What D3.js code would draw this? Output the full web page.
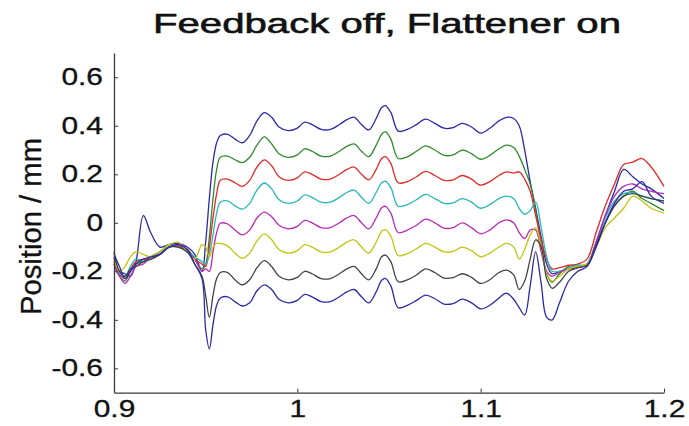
<!DOCTYPE html>
<html><head><meta charset="utf-8">
<script src="https://cdn.jsdelivr.net/npm/d3@7"></script>
<style>
html,body{margin:0;padding:0;background:#fff;}
svg{display:block;font-family:"Liberation Sans",Arial,Helvetica,sans-serif;}
</style></head>
<body>
<svg id="chart" width="689" height="426"></svg>
<script>
// ---- data ----
const titleText = "Feedback off, Flattener on";
const yLabelText = "Position / mm";
const xTicks = [0.9, 1.0, 1.1, 1.2];
const xTickLabels = ["0.9", "1", "1.1", "1.2"];
const yTicks = [-0.6, -0.4, -0.2, 0, 0.2, 0.4, 0.6];
const yTickLabels = ["-0.6", "-0.4", "-0.2", "0", "0.2", "0.4", "0.6"];

const xs = [
  0.900, 0.903, 0.906, 0.909, 0.912, 0.916, 0.920, 0.925, 0.930, 0.935, 0.940, 0.944, 0.948,
  0.950, 0.952, 0.954, 0.956, 0.958,
  0.962, 0.966, 0.970, 0.974, 0.978, 0.982, 0.986, 0.990, 0.995, 1.000, 1.004, 1.008, 1.013, 1.018, 1.023,
  1.027, 1.031, 1.035, 1.039, 1.043, 1.046, 1.048, 1.051, 1.055, 1.060, 1.065, 1.070, 1.075, 1.080, 1.085,
  1.090, 1.095, 1.100, 1.105, 1.110, 1.114, 1.118,
  1.121, 1.124, 1.127, 1.130, 1.133, 1.136, 1.139,
  1.143, 1.148, 1.153, 1.158, 1.163, 1.168, 1.173, 1.178, 1.183, 1.188, 1.193, 1.200
];

const s1 = [
  -0.14, -0.20, -0.21, -0.22, -0.16, 0.03, -0.04, -0.10, -0.09, -0.085, -0.10, -0.13, -0.20,
  -0.08, 0.10, 0.25, 0.33, 0.36,
  0.365, 0.345, 0.330, 0.360, 0.420, 0.454, 0.435, 0.395, 0.380, 0.390, 0.415, 0.405, 0.385, 0.385, 0.405,
  0.425, 0.435, 0.405, 0.383, 0.430, 0.475, 0.483, 0.455, 0.378, 0.385, 0.405, 0.427, 0.410, 0.390, 0.392,
  0.410, 0.395, 0.370, 0.390, 0.420, 0.435, 0.430,
  0.40, 0.30, 0.17, 0.06, -0.06, -0.17, -0.21,
  -0.20, -0.19, -0.185, -0.17, -0.08, 0.03, 0.13, 0.22, 0.19, 0.16, 0.14, 0.10
];
const s2 = [
  -0.17, -0.22, -0.24, -0.20, -0.17, -0.16, -0.14, -0.12, -0.09, -0.10, -0.11, -0.15, -0.19,
  -0.17, -0.06, 0.10, 0.22, 0.27,
  0.275, 0.26, 0.248, 0.27, 0.32, 0.354, 0.325, 0.285, 0.27, 0.28, 0.305, 0.295, 0.275, 0.275, 0.295,
  0.315, 0.325, 0.295, 0.273, 0.32, 0.365, 0.376, 0.345, 0.265, 0.272, 0.295, 0.317, 0.30, 0.278, 0.28,
  0.30, 0.285, 0.262, 0.278, 0.305, 0.32, 0.31,
  0.275, 0.22, 0.16, 0.05, -0.09, -0.21, -0.245,
  -0.21, -0.18, -0.175, -0.175, -0.09, 0.0, 0.07, 0.11, 0.13, 0.10, 0.08, 0.05
];
const s3 = [
  -0.16, -0.21, -0.23, -0.19, -0.16, -0.15, -0.15, -0.13, -0.10, -0.095, -0.11, -0.15, -0.17,
  -0.18, -0.10, 0.02, 0.12, 0.175,
  0.18, 0.165, 0.15, 0.175, 0.23, 0.259, 0.235, 0.19, 0.175, 0.185, 0.21, 0.20, 0.18, 0.18, 0.20,
  0.22, 0.23, 0.20, 0.177, 0.22, 0.265, 0.273, 0.245, 0.165, 0.17, 0.19, 0.212, 0.195, 0.175, 0.177,
  0.195, 0.18, 0.155, 0.17, 0.195, 0.21, 0.205,
  0.21, 0.18, 0.13, 0.03, -0.07, -0.15, -0.19,
  -0.185, -0.175, -0.17, -0.15, -0.04, 0.07, 0.16, 0.24, 0.25, 0.265, 0.23, 0.15
];
const s4 = [
  -0.19, -0.21, -0.22, -0.18, -0.15, -0.16, -0.15, -0.12, -0.10, -0.10, -0.12, -0.14, -0.16,
  -0.17, -0.13, -0.05, 0.04, 0.085,
  0.09, 0.07, 0.056, 0.08, 0.135, 0.164, 0.14, 0.095, 0.08, 0.09, 0.115, 0.105, 0.085, 0.085, 0.105,
  0.125, 0.135, 0.105, 0.08, 0.125, 0.165, 0.172, 0.145, 0.068, 0.075, 0.095, 0.117, 0.10, 0.08, 0.082,
  0.10, 0.085, 0.06, 0.075, 0.10, 0.11, 0.10,
  0.06, 0.035, 0.05, 0.085, -0.02, -0.14, -0.20,
  -0.20, -0.185, -0.175, -0.17, -0.08, 0.02, 0.09, 0.12, 0.125, 0.11, 0.10, 0.09
];
const s5 = [
  -0.17, -0.22, -0.25, -0.22, -0.18, -0.17, -0.14, -0.13, -0.10, -0.09, -0.12, -0.15, -0.20,
  -0.19, -0.20, -0.12, -0.04, -0.002,
  -0.005, -0.03, -0.05, -0.03, 0.02, 0.044, 0.025, -0.01, -0.025, -0.015, 0.01, 0.0, -0.02, -0.02, 0.0,
  0.02, 0.03, 0.0, -0.025, 0.02, 0.062, 0.068, 0.04, -0.04, -0.03, -0.01, 0.015, 0.0, -0.022, -0.02,
  0.0, -0.02, -0.045, -0.03, 0.0, 0.012, 0.0,
  -0.04, -0.065, -0.03, -0.03, -0.12, -0.20, -0.22,
  -0.205, -0.19, -0.18, -0.175, -0.08, 0.03, 0.11, 0.15, 0.16, 0.14, 0.13, 0.12
];
const s6 = [
  -0.15, -0.20, -0.18, -0.14, -0.12, -0.13, -0.14, -0.12, -0.09, -0.08, -0.12, -0.15, -0.09,
  -0.10, -0.14, -0.10, -0.085, -0.085,
  -0.095, -0.125, -0.146, -0.125, -0.075, -0.046, -0.07, -0.11, -0.125, -0.115, -0.09, -0.10, -0.12, -0.12, -0.10,
  -0.08, -0.07, -0.10, -0.125, -0.08, -0.035, -0.028, -0.055, -0.135, -0.127, -0.107, -0.085, -0.10, -0.12, -0.118,
  -0.10, -0.115, -0.14, -0.125, -0.10, -0.085, -0.10,
  -0.15, -0.11, -0.05, -0.02, -0.10, -0.21, -0.24,
  -0.22, -0.19, -0.18, -0.17, -0.10, -0.02, 0.02, 0.06, 0.11, 0.09, 0.06, 0.04
];
const s7 = [
  -0.12, -0.20, -0.22, -0.19, -0.18, -0.16, -0.15, -0.13, -0.10, -0.10, -0.12, -0.17, -0.22,
  -0.30, -0.39, -0.30, -0.23, -0.205,
  -0.205, -0.235, -0.256, -0.235, -0.185, -0.156, -0.18, -0.22, -0.235, -0.225, -0.20, -0.21, -0.23, -0.23, -0.21,
  -0.19, -0.18, -0.21, -0.235, -0.19, -0.14, -0.133, -0.16, -0.243, -0.235, -0.215, -0.19, -0.205, -0.228, -0.226,
  -0.21, -0.225, -0.25, -0.235, -0.205, -0.195, -0.215,
  -0.275, -0.24, -0.15, -0.07, -0.10, -0.23, -0.27,
  -0.245, -0.20, -0.185, -0.175, -0.09, 0.0, 0.07, 0.11, 0.12, 0.11, 0.10, 0.09
];
const s8 = [
  -0.13, -0.18, -0.23, -0.20, -0.17, -0.15, -0.14, -0.13, -0.10, -0.09, -0.11, -0.17, -0.23,
  -0.44, -0.52, -0.42, -0.34, -0.31,
  -0.305, -0.325, -0.343, -0.33, -0.28, -0.256, -0.275, -0.315, -0.33, -0.32, -0.295, -0.305, -0.325, -0.325, -0.305,
  -0.285, -0.275, -0.305, -0.33, -0.285, -0.237, -0.229, -0.26, -0.35, -0.34, -0.32, -0.298, -0.313, -0.335, -0.333,
  -0.315, -0.33, -0.355, -0.34, -0.31, -0.29, -0.315,
  -0.35, -0.38, -0.26, -0.12, -0.25, -0.39, -0.40,
  -0.33, -0.24, -0.20, -0.18, -0.10, 0.0, 0.08, 0.13, 0.14, 0.17, 0.11, 0.08
];
const seriesList = [s1, s2, s3, s4, s5, s6, s7, s8];

// ---- style ----
const colors = ["#2a2aa6", "#2f8a2f", "#e02a2a", "#28b8b8", "#b82ab8", "#c4c410", "#444444", "#2a2aa6"];
const stretch = 1.3;

// ---- drawing ----
const svg = d3.select("#chart");
const x = d3.scaleLinear().domain([0.9, 1.2]).range([114, 664]);
const y = d3.scaleLinear().domain([-0.7, 0.7]).range([392.6, 53]);

const line = d3.line().x(d => x(d[0])).y(d => y(d[1])).curve(d3.curveCatmullRom.alpha(0.5));
const plot = svg.append("g");
seriesList.forEach((s, i) => {
  plot.append("path")
    .attr("d", line(xs.map((xv, j) => [xv, s[j]])))
    .attr("fill", "none")
    .attr("stroke", colors[i])
    .attr("stroke-width", 1.3)
    .attr("stroke-linejoin", "round");
});

const yAxis = svg.append("g").attr("transform", `translate(${x(0.9)},0)`)
  .call(d3.axisLeft(y).tickValues(yTicks).tickSizeInner(-4).tickSizeOuter(0).tickPadding(11)
    .tickFormat((d, i) => yTickLabels[i]));
const xAxis = svg.append("g").attr("transform", `translate(0,${y(-0.7)})`)
  .call(d3.axisBottom(x).tickValues(xTicks).tickSizeInner(-4).tickSizeOuter(0).tickPadding(8)
    .tickFormat((d, i) => xTickLabels[i]));

[yAxis, xAxis].forEach(g => {
  g.select(".domain").attr("stroke", "#3a3a3a").attr("stroke-width", 1.3);
  g.selectAll(".tick line").attr("stroke", "#3a3a3a");
  g.selectAll(".tick text").attr("font-size", 23).attr("fill", "#111")
    .attr("font-family", '"Liberation Sans", Arial, sans-serif')
    .attr("stroke", "#111").attr("stroke-width", 0.3)
    .each(function () {
      const w = this.getComputedTextLength();
      d3.select(this).attr("textLength", w * stretch).attr("lengthAdjust", "spacingAndGlyphs");
    });
});

svg.append("text")
  .attr("x", (x(0.9) + x(1.2)) / 2 - 2)
  .attr("y", 33)
  .attr("text-anchor", "middle")
  .attr("font-size", 28)
  .attr("fill", "#111")
  .attr("stroke", "#111").attr("stroke-width", 0.6)
  .attr("textLength", 468)
  .attr("lengthAdjust", "spacingAndGlyphs")
  .text(titleText);

svg.append("text")
  .attr("transform", `translate(41,${226.5}) rotate(-90)`)
  .attr("text-anchor", "middle")
  .attr("font-size", 29)
  .attr("fill", "#111")
  .attr("stroke", "#111").attr("stroke-width", 0.3)
  .attr("textLength", 177)
  .attr("lengthAdjust", "spacingAndGlyphs")
  .text(yLabelText);
</script>
</body></html>
